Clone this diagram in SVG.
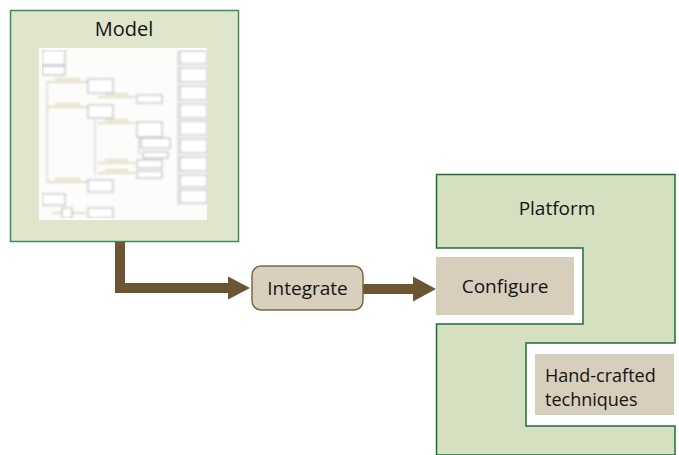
<svg xmlns="http://www.w3.org/2000/svg" width="679" height="455" viewBox="0 0 679 455">
<defs>
<style>
.lbl{font-family:"Open Sans","Noto Sans","Liberation Sans",sans-serif;fill:#141414}
.tb{fill:#fff;stroke:#a9adb3;stroke-width:1}
.tl{stroke:#c9bf8a;stroke-width:1;fill:none}
.tg{stroke:#b8bcc2;stroke-width:0.8;fill:none}
.arr{fill:#6b5533}
</style>
<filter id="soft" x="0" y="0" width="1" height="1"><feGaussianBlur stdDeviation="0.8"/></filter>
</defs>
<rect width="679" height="455" fill="#fff"/>

<g id="model">
<rect x="10.5" y="10.5" width="228" height="231" fill="#dfe6cb" stroke="#3f8c5a" stroke-width="1.5"/>
<text class="lbl" x="124" y="36" font-size="20" text-anchor="middle">Model</text>
<g id="thumbnail">
<rect x="39" y="48" width="168" height="172" fill="#fcfcfb"/>
<g filter="url(#soft)">
<rect class="tb" x="42" y="50" width="23" height="15"/>
<rect class="tb" x="42" y="66" width="23" height="9"/>
<line class="tg" x1="47" y1="82" x2="47" y2="182"/>
<line class="tl" x1="47" y1="82" x2="88" y2="82"/>
<line class="tl" x1="55" y1="79" x2="80" y2="79"/>
<rect class="tb" x="88" y="79" width="25" height="14"/>
<line class="tl" x1="98" y1="97" x2="135" y2="97"/>
<line class="tl" x1="105" y1="94" x2="128" y2="94"/>
<rect class="tb" x="137" y="95" width="25" height="8"/>
<line class="tl" x1="47" y1="107" x2="88" y2="107"/>
<line class="tl" x1="55" y1="104" x2="80" y2="104"/>
<rect class="tb" x="88" y="105" width="25" height="13"/>
<line class="tg" x1="95" y1="118" x2="95" y2="175"/>
<line class="tl" x1="98" y1="123" x2="135" y2="123"/>
<line class="tl" x1="105" y1="120" x2="128" y2="120"/>
<rect class="tb" x="137" y="122" width="25" height="15"/>
<line class="tg" x1="139" y1="137" x2="139" y2="155"/>
<rect class="tb" x="141" y="138" width="29" height="10"/>
<rect class="tb" x="143" y="152" width="25" height="6"/>
<line class="tl" x1="98" y1="163" x2="135" y2="163"/>
<line class="tl" x1="105" y1="160" x2="128" y2="160"/>
<rect class="tb" x="137" y="160" width="25" height="8"/>
<line class="tl" x1="98" y1="173" x2="135" y2="173"/>
<line class="tl" x1="105" y1="170" x2="128" y2="170"/>
<rect class="tb" x="137" y="171" width="25" height="7"/>
<line class="tl" x1="47" y1="182" x2="88" y2="182"/>
<line class="tl" x1="55" y1="179" x2="80" y2="179"/>
<rect class="tb" x="88" y="180" width="25" height="12"/>
<rect class="tb" x="42" y="194" width="23" height="11"/>
<line class="tl" x1="52" y1="213" x2="86" y2="213"/>
<rect class="tb" x="62" y="208" width="10" height="10"/>
<rect class="tb" x="88" y="208" width="25" height="10"/>
<line class="tg" x1="178" y1="50" x2="178" y2="205"/>
<rect class="tb" x="180" y="51" width="27" height="13"/>
<rect class="tb" x="180" y="68" width="27" height="14"/>
<rect class="tb" x="180" y="86" width="27" height="14"/>
<rect class="tb" x="180" y="104" width="27" height="14"/>
<rect class="tb" x="180" y="121" width="27" height="14"/>
<rect class="tb" x="180" y="139" width="27" height="14"/>
<rect class="tb" x="180" y="157" width="27" height="14"/>
<rect class="tb" x="180" y="175" width="27" height="12"/>
<rect class="tb" x="180" y="190" width="27" height="13"/>
</g>
</g>
</g>

<g id="platform">
<path d="M436.5 174.5 H675 V343 H526 V426 H675 V455 H436.5 V324 H583 V248 H436.5 Z" fill="#d4e0c0" stroke="#1e6e3a" stroke-width="1.5"/>
<text class="lbl" x="557" y="215" font-size="19" text-anchor="middle">Platform</text>
</g>

<g id="configure">
<rect x="436" y="257" width="138" height="58" fill="#d7cebc"/>
<text class="lbl" x="505" y="293" font-size="19" text-anchor="middle">Configure</text>
</g>

<g id="handcrafted">
<rect x="535" y="354" width="139" height="61" fill="#d7cebc"/>
<text class="lbl" x="545" y="382" font-size="18">Hand-crafted</text>
<text class="lbl" x="545" y="406" font-size="18">techniques</text>
</g>

<g id="connectors">
<path class="arr" d="M115 242 H125 V283 H228 V276.5 L250 288 L228 299.5 V293 H115 Z"/>
<path class="arr" d="M363 284 H413 V276.5 L436 289 L413 301.5 V294 H363 Z"/>
</g>

<g id="integrate">
<rect x="252" y="266" width="111" height="44" rx="9" fill="#d8cfbc" stroke="#7a6a48" stroke-width="1.5"/>
<text class="lbl" x="307.5" y="295" font-size="19" text-anchor="middle">Integrate</text>
</g>
</svg>
